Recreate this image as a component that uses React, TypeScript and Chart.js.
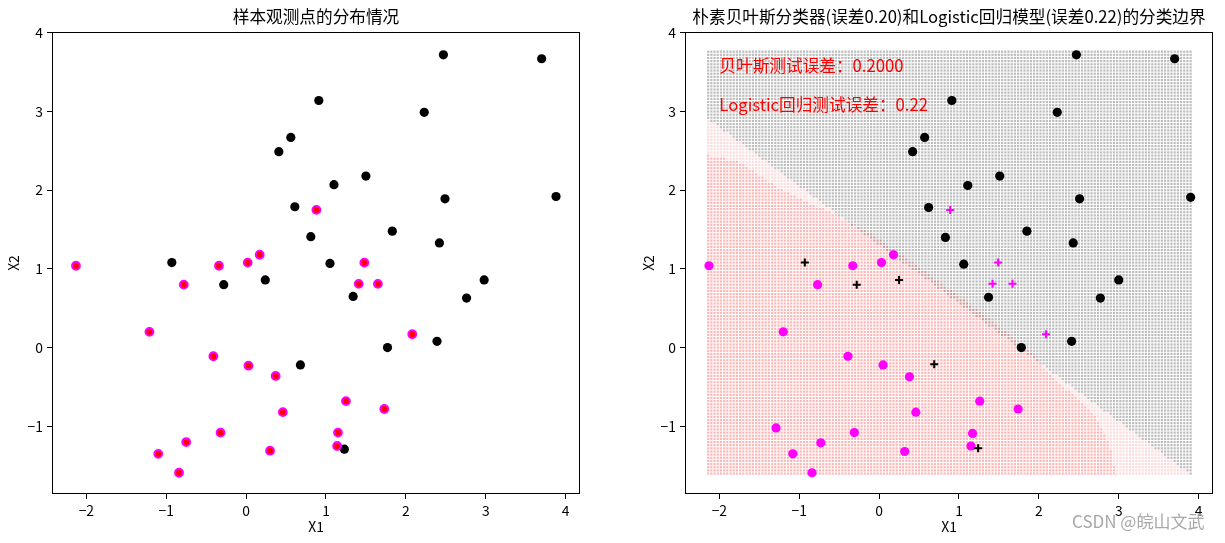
import React, { useEffect, useRef } from "react";
import { Chart, registerables } from "chart.js";

Chart.register(...registerables);

const FONT = '"Noto Sans CJK SC", "Noto Sans", sans-serif';

// ---------- text ----------
const leftTitle = "样本观测点的分布情况";
const rightTitle = "朴素贝叶斯分类器(误差0.20)和Logistic回归模型(误差0.22)的分类边界";
const xLabel = "X1";
const yLabel = "X2";
const annotText = ["贝叶斯测试误差：0.2000", "Logistic回归测试误差：0.22"];
const annotX = [-2.0, -2.0];
const annotY = [3.5, 3.0];
const watermark = "CSDN @皖山文武";

// ---------- axes ----------
const xTicks = [-2, -1, 0, 1, 2, 3, 4];
const yTicks = [-1, 0, 1, 2, 3, 4];
const xRange = [-2.43, 4.18];
const yRange = [-1.86, 4.01];

// ---------- left panel: all observations ----------
const obs0X = [0.91, 0.56, 0.41, 1.1, 0.61, 0.81, -0.93, 1.05, 2.47, 3.7, 2.23, 1.5, 2.49, 3.88, 1.83, 2.42, -0.28, 0.24, 0.68, 1.34, 2.98, 2.76, 2.39, 1.77, 1.23];
const obs0Y = [3.14, 2.67, 2.49, 2.07, 1.79, 1.41, 1.08, 1.07, 3.72, 3.67, 2.99, 2.18, 1.89, 1.92, 1.48, 1.33, 0.8, 0.86, -0.22, 0.65, 0.86, 0.63, 0.08, 0.0, -1.29];
const obs1X = [0.88, -2.13, -0.34, 0.02, 0.17, 1.48, -0.78, 1.41, 1.65, -1.21, 2.08, -0.41, 0.03, 0.37, 0.46, 1.25, 1.73, -0.32, -0.75, -1.1, -0.84, 0.3, 1.15, 1.14];
const obs1Y = [1.75, 1.04, 1.04, 1.08, 1.18, 1.08, 0.8, 0.81, 0.81, 0.2, 0.17, -0.11, -0.23, -0.36, -0.82, -0.68, -0.78, -1.08, -1.2, -1.35, -1.59, -1.31, -1.08, -1.25];

// ---------- right panel: training / test ----------
const train0X = [0.91, 0.57, 0.42, 1.11, 0.62, 0.83, 1.06, 2.47, 3.7, 2.23, 1.51, 2.51, 3.9, 1.85, 2.43, 1.37, 3.0, 2.77, 2.41, 1.78];
const train0Y = [3.14, 2.67, 2.49, 2.06, 1.78, 1.4, 1.06, 3.72, 3.67, 2.99, 2.18, 1.89, 1.91, 1.48, 1.33, 0.64, 0.86, 0.63, 0.08, 0.0];
const train1X = [-2.13, -0.33, 0.03, 0.18, -0.77, -1.2, -0.39, 0.05, 0.38, 0.46, -1.29, -0.31, -0.73, -1.08, -0.84, 0.32, 1.17, 1.15, 1.26, 1.74];
const train1Y = [1.04, 1.04, 1.08, 1.18, 0.8, 0.2, -0.11, -0.22, -0.37, -0.82, -1.02, -1.08, -1.21, -1.35, -1.59, -1.32, -1.09, -1.25, -0.68, -0.78];
const test0X = [-0.93, -0.28, 0.25, 0.69, 1.24];
const test0Y = [1.08, 0.8, 0.86, -0.21, -1.28];
const test1X = [0.89, 1.49, 1.42, 1.67, 2.09];
const test1Y = [1.75, 1.08, 0.81, 0.81, 0.17];

// ---------- decision map (mesh over the data range) ----------
const gridX = [-2.14, 3.91];
const gridY = [-1.6, 3.74];
const gridStep = 0.04;
// logistic regression boundary (straight line), two points
const lrLineX = [-2.02, 3.82];
const lrLineY = [2.815, -1.553];
// naive Bayes boundary (curve), x of the edge for each y
const nbEdgeY = [2.47, 2.447, 2.371, 2.219, 2.092, 1.953, 1.827, 1.738, 1.422, 1.105, 0.725, 0.346, 0.029, -0.224, -0.452, -0.668, -0.883, -1.11, -1.364, -1.604, -1.806];
const nbEdgeX = [-2.37, -2.143, -1.779, -1.529, -1.341, -1.128, -0.865, -0.639, -0.065, 0.39, 0.905, 1.405, 1.8, 2.043, 2.268, 2.494, 2.707, 2.832, 2.92, 2.957, 2.97];
const regionColors = {
  both1: "#ffb6b6",
  both0: "#bdbdbd",
  lrOnly: "#fbdcdc",
  nbOnly: "#c99a9a",
};

const pts = (xs: number[], ys: number[]) => xs.map((x, i) => ({ x, y: ys[i] }));

function lrYAt(x: number) {
  return lrLineY[0] + ((x - lrLineX[0]) * (lrLineY[1] - lrLineY[0])) / (lrLineX[1] - lrLineX[0]);
}
function nbEdgeAt(y: number): number | null {
  if (y > nbEdgeY[0]) return null;
  for (let k = 0; k < nbEdgeY.length - 1; k++) {
    const y0 = nbEdgeY[k];
    const y1 = nbEdgeY[k + 1];
    if (y <= y0 && y >= y1) {
      const t = (y0 - y) / (y0 - y1);
      return nbEdgeX[k] + t * (nbEdgeX[k + 1] - nbEdgeX[k]);
    }
  }
  return nbEdgeX[nbEdgeX.length - 1];
}

function buildRegions() {
  const r = { both1: [] as any[], both0: [] as any[], lrOnly: [] as any[], nbOnly: [] as any[] };
  const nx = Math.round((gridX[1] - gridX[0]) / gridStep) + 1;
  const ny = Math.round((gridY[1] - gridY[0]) / gridStep) + 1;
  for (let j = 0; j < ny; j++) {
    const y = gridY[0] + j * gridStep;
    const edge = nbEdgeAt(y);
    for (let i = 0; i < nx; i++) {
      const x = gridX[0] + i * gridStep;
      const lr = y < lrYAt(x);
      const nb = edge !== null && x < edge;
      const p = { x, y };
      if (lr && nb) r.both1.push(p);
      else if (!lr && !nb) r.both0.push(p);
      else if (lr) r.lrOnly.push(p);
      else r.nbOnly.push(p);
    }
  }
  return r;
}

const fmtTick = (v: any) => {
  const n = Number(v);
  return n < 0 ? "\u2212" + Math.abs(n) : String(n);
};

const tickFont = { family: FONT, size: 13.9 };

function makeScales(yTitlePad: number, yWidth: number) {
  return {
    x: {
      type: "linear",
      min: xRange[0],
      max: xRange[1],
      afterBuildTicks: (s: any) => {
        s.ticks = xTicks.map((v) => ({ value: v }));
      },
      afterFit: (s: any) => {
        s.height = 49;
      },
      ticks: { font: tickFont, color: "#000", padding: 3, autoSkip: false, maxRotation: 0, callback: fmtTick },
      grid: { drawOnChartArea: false, drawTicks: true, tickLength: 5, color: "#000", lineWidth: 1 },
      border: { display: false },
      title: { display: true, text: xLabel, font: tickFont, color: "#000", padding: { top: 0, bottom: 8 } },
    },
    y: {
      type: "linear",
      min: yRange[0],
      max: yRange[1],
      afterBuildTicks: (s: any) => {
        s.ticks = yTicks.map((v) => ({ value: v }));
      },
      afterFit: (s: any) => {
        s.width = yWidth;
      },
      ticks: { font: tickFont, color: "#000", padding: 4, autoSkip: false, callback: fmtTick },
      grid: { drawOnChartArea: false, drawTicks: true, tickLength: 5, color: "#000", lineWidth: 1 },
      border: { display: false },
      title: { display: true, text: yLabel, font: tickFont, color: "#000", padding: { top: yTitlePad, bottom: 0 } },
    },
  };
}

const framePlugin = {
  id: "frame",
  afterDatasetsDraw(chart: any) {
    const { ctx, chartArea: a } = chart;
    ctx.save();
    ctx.strokeStyle = "#000";
    ctx.lineWidth = 1;
    const l = Math.round(a.left) + 0.5;
    const t = Math.round(a.top) + 0.5;
    const r = Math.round(a.right) - 0.5;
    const b = Math.round(a.bottom) - 0.5;
    ctx.strokeRect(l, t, r - l, b - t);
    ctx.restore();
  },
};

const annotPlugin = {
  id: "annot",
  afterDatasetsDraw(chart: any) {
    const { ctx, scales } = chart;
    ctx.save();
    ctx.font = `16.67px ${FONT}`;
    ctx.fillStyle = "#ff0000";
    ctx.textAlign = "left";
    ctx.textBaseline = "alphabetic";
    annotText.forEach((t, i) => {
      ctx.fillText(t, scales.x.getPixelForValue(annotX[i]), scales.y.getPixelForValue(annotY[i]));
    });
    ctx.restore();
  },
};

function titleOpts(text: string) {
  return {
    display: true,
    text,
    fullSize: false,
    color: "#000",
    font: { family: FONT, size: 16.67, weight: "normal" },
    padding: { top: 7, bottom: 5 },
  };
}

function leftConfig(): any {
  return {
    type: "scatter",
    data: {
      datasets: [
        {
          data: pts(obs1X, obs1Y),
          backgroundColor: "#ff0000",
          borderColor: "#ff00ff",
          borderWidth: 2,
          pointRadius: 3.9,
          order: 0,
        },
        {
          data: pts(obs0X, obs0Y),
          backgroundColor: "#000000",
          borderColor: "#000000",
          borderWidth: 0,
          pointRadius: 4.6,
          order: 1,
        },
      ],
    },
    options: {
      animation: false,
      responsive: false,
      devicePixelRatio: 1,
      events: [],
      layout: { padding: { left: 0, right: 32, top: 0, bottom: 0 } },
      plugins: { legend: { display: false }, tooltip: { enabled: false }, title: titleOpts(leftTitle) },
      scales: makeScales(5.7, 52),
    },
    plugins: [framePlugin],
  };
}

function rightConfig(): any {
  const reg = buildRegions();
  const gridSet = (data: any[], color: string) => ({
    data,
    pointStyle: "rect",
    pointRadius: 1.55,
    backgroundColor: color,
    borderWidth: 0,
    order: 5,
  });
  return {
    type: "scatter",
    data: {
      datasets: [
        { data: pts(test0X, test0Y), pointStyle: "cross", pointRadius: 4, borderWidth: 2, borderColor: "#000000", order: 0 },
        { data: pts(test1X, test1Y), pointStyle: "cross", pointRadius: 4, borderWidth: 2, borderColor: "#ff00ff", order: 0 },
        { data: pts(train0X, train0Y), pointRadius: 4.6, borderWidth: 0, backgroundColor: "#000000", order: 1 },
        { data: pts(train1X, train1Y), pointRadius: 4.6, borderWidth: 0, backgroundColor: "#ff00ff", order: 1 },
        gridSet(reg.both0, regionColors.both0),
        gridSet(reg.both1, regionColors.both1),
        gridSet(reg.lrOnly, regionColors.lrOnly),
        gridSet(reg.nbOnly, regionColors.nbOnly),
      ],
    },
    options: {
      animation: false,
      responsive: false,
      devicePixelRatio: 1,
      events: [],
      layout: { padding: { left: 0, right: 12, top: 0, bottom: 0 } },
      plugins: { legend: { display: false }, tooltip: { enabled: false }, title: titleOpts(rightTitle) },
      scales: makeScales(28.7, 73),
    },
    plugins: [framePlugin, annotPlugin],
  };
}

export default function App() {
  const leftRef = useRef<HTMLCanvasElement>(null);
  const rightRef = useRef<HTMLCanvasElement>(null);
  useEffect(() => {
    const c1 = new Chart(leftRef.current as HTMLCanvasElement, leftConfig());
    const c2 = new Chart(rightRef.current as HTMLCanvasElement, rightConfig());
    return () => {
      c1.destroy();
      c2.destroy();
    };
  }, []);
  return (
    <div style={{ position: "absolute", left: 0, top: 0, width: 1225, height: 543, background: "#fff", overflow: "hidden" }}>
      <canvas ref={leftRef} width={612} height={543} style={{ position: "absolute", left: 0, top: 0, width: 612, height: 543 }} />
      <canvas ref={rightRef} width={613} height={543} style={{ position: "absolute", left: 612, top: 0, width: 613, height: 543 }} />
      <div
        style={{
          position: "absolute",
          left: 1072,
          top: 511,
          fontFamily: FONT,
          fontSize: 17,
          lineHeight: "20px",
          color: "#a8a8a8",
          whiteSpace: "nowrap",
          textShadow: "0 0 1px #fff",
        }}
      >
        {watermark}
      </div>
    </div>
  );
}
